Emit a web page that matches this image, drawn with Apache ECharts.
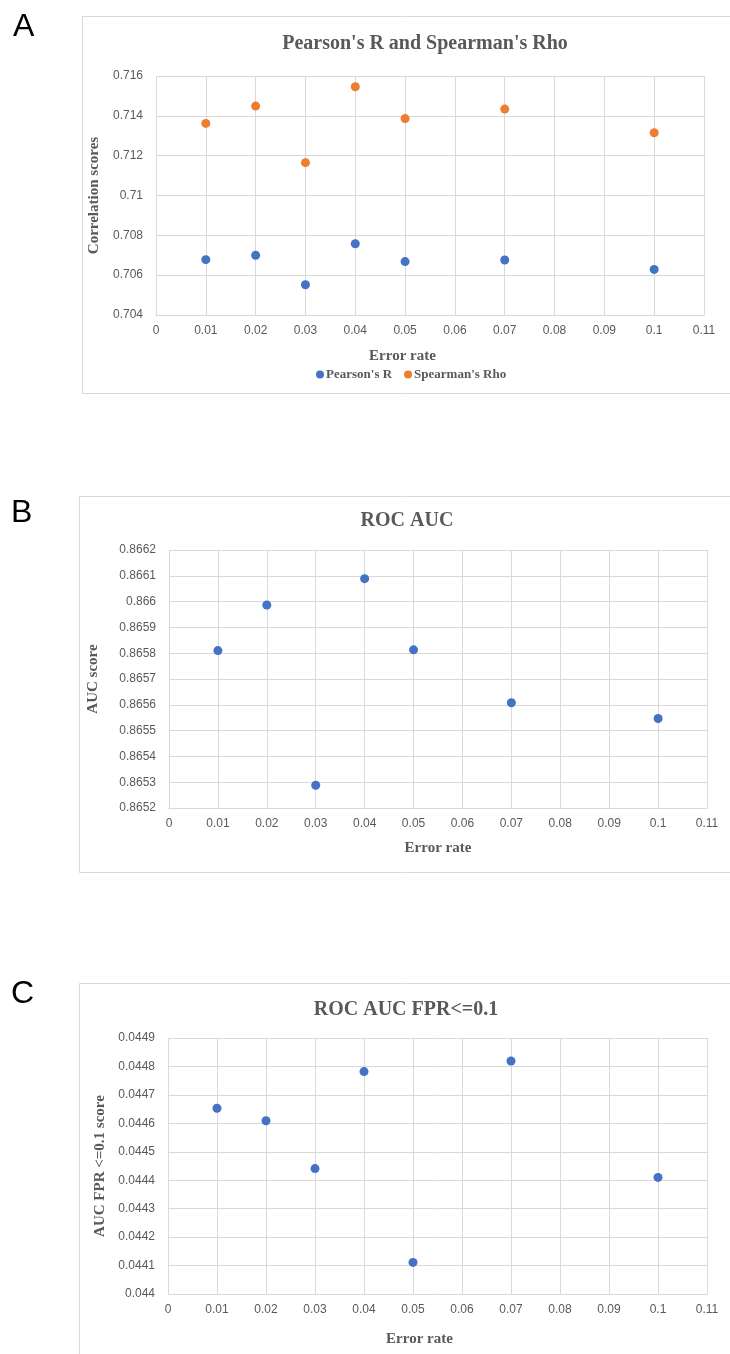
<!DOCTYPE html>
<html><head><meta charset="utf-8">
<script src="https://cdn.jsdelivr.net/npm/echarts@6/dist/echarts.min.js"></script>
<style>html,body{margin:0;padding:0;background:#fff}#c{width:730px;height:1354px}</style>
</head><body><div id="c"></div>
<script>
// ---- data ----
const errorRates   = [0.01, 0.02, 0.03, 0.04, 0.05, 0.07, 0.1];
const pearsonR     = [0.70678, 0.70700, 0.70552, 0.70758, 0.70668, 0.70676, 0.70629];
const spearmanRho  = [0.71362, 0.71449, 0.71165, 0.71546, 0.71386, 0.71434, 0.71315];
const rocAuc       = [0.86581, 0.865987, 0.865288, 0.866089, 0.865813, 0.865608, 0.865547];
const rocAucFpr01  = [0.044653, 0.044609, 0.044441, 0.044782, 0.044111, 0.044819, 0.04441];
// axis ranges: [min, max, interval]
const xRange  = [0, 0.11, 0.01];
const yRangeA = [0.704, 0.716, 0.002];
const yRangeB = [0.8652, 0.8662, 0.0001];
const yRangeC = [0.0440, 0.0449, 0.0001];
const titles  = ["Pearson's R and Spearman's Rho", "ROC AUC", "ROC AUC FPR<=0.1"];
const yNames  = ["Correlation scores", "AUC score", "AUC FPR <=0.1 score"];
const xName   = "Error rate";
const seriesNames = ["Pearson's R", "Spearman's Rho"];
const panelLetters = ["A", "B", "C"];

const BLUE = '#4472C4', ORANGE = '#ED7D31', GRAY = '#595959', GRID = '#d9d9d9';
const SERIF = "'Liberation Serif','Times New Roman',serif";
const SANS = "'Liberation Sans',Arial,sans-serif";
const fmt = v => String(+(+v).toFixed(6));
const pairs = ys => errorRates.map((x, i) => [x, ys[i]]);

const grids = [
  {left: 156, top: 76,   width: 548, height: 239},
  {left: 169, top: 550,  width: 538, height: 258},
  {left: 168, top: 1038, width: 539, height: 256}
];
const yRanges = [yRangeA, yRangeB, yRangeC];
const yNameGaps = [43, 68, 60];
const xNameGaps = [34, 33, 38];
const xNamePads = [[0, 55, 0, 0], [0, 0, 0, 0], [0, 36, 0, 0]];

const xAxes = grids.map((g, i) => ({
  type: 'value', gridIndex: i, min: xRange[0], max: xRange[1], interval: xRange[2],
  name: xName, nameLocation: 'middle', nameGap: xNameGaps[i],
  nameTextStyle: {fontFamily: SERIF, fontWeight: 'bold', fontSize: 15, color: GRAY, padding: xNamePads[i]},
  axisLine: {show: true, lineStyle: {color: GRID, width: 1}},
  axisTick: {show: false},
  axisLabel: {formatter: fmt, color: GRAY, fontFamily: SANS, fontSize: 12, margin: 10},
  splitLine: {show: true, lineStyle: {color: GRID, width: 1}}
}));
const yAxes = grids.map((g, i) => ({
  type: 'value', gridIndex: i, min: yRanges[i][0], max: yRanges[i][1], interval: yRanges[i][2],
  name: yNames[i], nameLocation: 'middle', nameGap: yNameGaps[i], nameRotate: 90,
  nameTextStyle: {fontFamily: SERIF, fontWeight: 'bold', fontSize: 15, color: GRAY},
  axisLine: {show: false}, axisTick: {show: false},
  axisLabel: {formatter: fmt, color: GRAY, fontFamily: SANS, fontSize: 12, margin: 13},
  splitLine: {show: true, lineStyle: {color: GRID, width: 1}}
}));

const dot = (name, data, color, idx) => ({
  type: 'scatter', name, xAxisIndex: idx, yAxisIndex: idx, data: pairs(data),
  symbol: 'circle', symbolSize: 9, itemStyle: {color, opacity: 1}, emphasis: {disabled: true}
});

const frames = [
  {x: 82, y: 16, w: 700, h: 377},
  {x: 79, y: 496, w: 700, h: 376},
  {x: 79, y: 983, w: 700, h: 420}
];
const titlePos = [[425, 44], [407, 521], [406, 1010]];
const letterPos = [[13, 27], [11, 513], [11, 994]];

const graphic = [];
frames.forEach(f => graphic.push({type: 'rect', silent: true, z: -10,
  shape: {x: f.x + 0.5, y: f.y + 0.5, width: f.w, height: f.h},
  style: {fill: 'none', stroke: GRID, lineWidth: 1}}));
titles.forEach((t, i) => graphic.push({type: 'text', silent: true,
  x: titlePos[i][0], y: titlePos[i][1],
  style: {text: t, fill: GRAY, font: "bold 20px " + SERIF, textAlign: 'center', textVerticalAlign: 'middle'}}));
panelLetters.forEach((t, i) => graphic.push({type: 'text', silent: true,
  x: letterPos[i][0], y: letterPos[i][1],
  style: {text: t, fill: '#000', font: "32px " + SANS, textAlign: 'left', textVerticalAlign: 'middle'}}));

const option = {
  animation: false,
  backgroundColor: '#fff',
  grid: grids,
  xAxis: xAxes,
  yAxis: yAxes,
  legend: {
    left: 311, top: 363, itemWidth: 8, itemHeight: 8, itemGap: 12,
    icon: 'circle', data: seriesNames,
    textStyle: {fontFamily: SERIF, fontWeight: 'bold', fontSize: 13, color: GRAY, padding: [0, 0, 0, -3]}
  },
  series: [
    dot(seriesNames[0], pearsonR, BLUE, 0),
    dot(seriesNames[1], spearmanRho, ORANGE, 0),
    dot('ROC AUC', rocAuc, BLUE, 1),
    dot('ROC AUC FPR<=0.1', rocAucFpr01, BLUE, 2)
  ],
  graphic
};
const chart = echarts.init(document.getElementById('c'), null, {renderer: 'canvas'});
chart.setOption(option);
</script>
</body></html>
